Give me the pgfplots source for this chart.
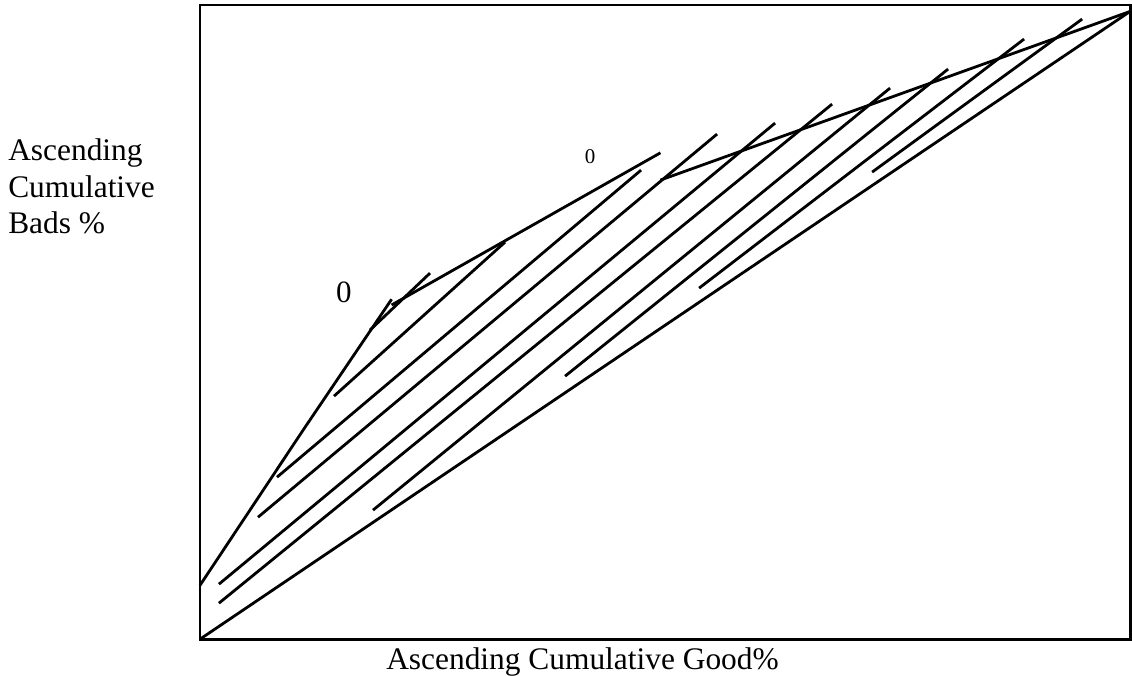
\documentclass[border=0pt]{standalone}
\usepackage{fontspec}
\setmainfont{Liberation Serif}
\usepackage{pgfplots}
\pgfplotsset{compat=1.18}
\begin{document}
\begin{tikzpicture}
\begin{axis}[
  scale only axis,
  width=465pt, height=317pt,
  xmin=0, xmax=100, ymin=0, ymax=100,
  xtick=\empty, ytick=\empty,
  axis line style={line width=1.4pt},
  clip=false,
  hl/.style={black, solid, line width=1.4pt, mark=none},
]
% diagonal (random model)
\addplot[hl] coordinates {(0,0) (100,99)};
% piecewise curve
\addplot[hl] coordinates {(0,8.5) (11.1,33.0) (20.6,53.6)};
\addplot[hl] coordinates {(20.6,52.7) (49.5,76.7)};
\addplot[hl] coordinates {(49.5,72.4) (100,99)};
% hatch lines
\addplot[hl] coordinates {(18.28,48.74) (24.73,57.73)};
\addplot[hl] coordinates {(14.41,38.33) (32.80,62.62)};
\addplot[hl] coordinates {(8.28,25.55) (47.42,73.97)};
\addplot[hl] coordinates {(6.24,19.24) (55.59,79.65)};
\addplot[hl] coordinates {(2.04,8.68) (61.83,81.39)};
\addplot[hl] coordinates {(2.04,5.68) (67.96,84.38)};
\addplot[hl] coordinates {(18.60,20.35) (74.19,86.91)};
\addplot[hl] coordinates {(39.25,41.48) (80.43,89.91)};
\addplot[hl] coordinates {(53.66,55.36) (88.60,94.64)};
\addplot[hl] coordinates {(72.26,73.66) (94.84,97.79)};
% labels
\node[font=\fontsize{15.5pt}{18pt}\selectfont] at (axis cs:15.48,54.73) {0};
\node[font=\fontsize{10.5pt}{12pt}\selectfont] at (axis cs:41.94,76.03) {0};
\node[anchor=base west, inner sep=0pt, font=\fontsize{15.7pt}{18pt}\selectfont] at (axis cs:-20.65,75.55) {Ascending};
\node[anchor=base west, inner sep=0pt, font=\fontsize{15.7pt}{18pt}\selectfont] at (axis cs:-20.65,69.72) {Cumulative};
\node[anchor=base west, inner sep=0pt, font=\fontsize{15.7pt}{18pt}\selectfont] at (axis cs:-20.65,64.04) {Bads \%};
\node[anchor=base, inner sep=0pt, font=\fontsize{15.7pt}{18pt}\selectfont] at (axis cs:41.13,-4.73) {Ascending Cumulative Good\%};
\path (axis cs:-21.5,-5.68) rectangle (axis cs:100.2,100.8);
\end{axis}
\end{tikzpicture}
\end{document}
